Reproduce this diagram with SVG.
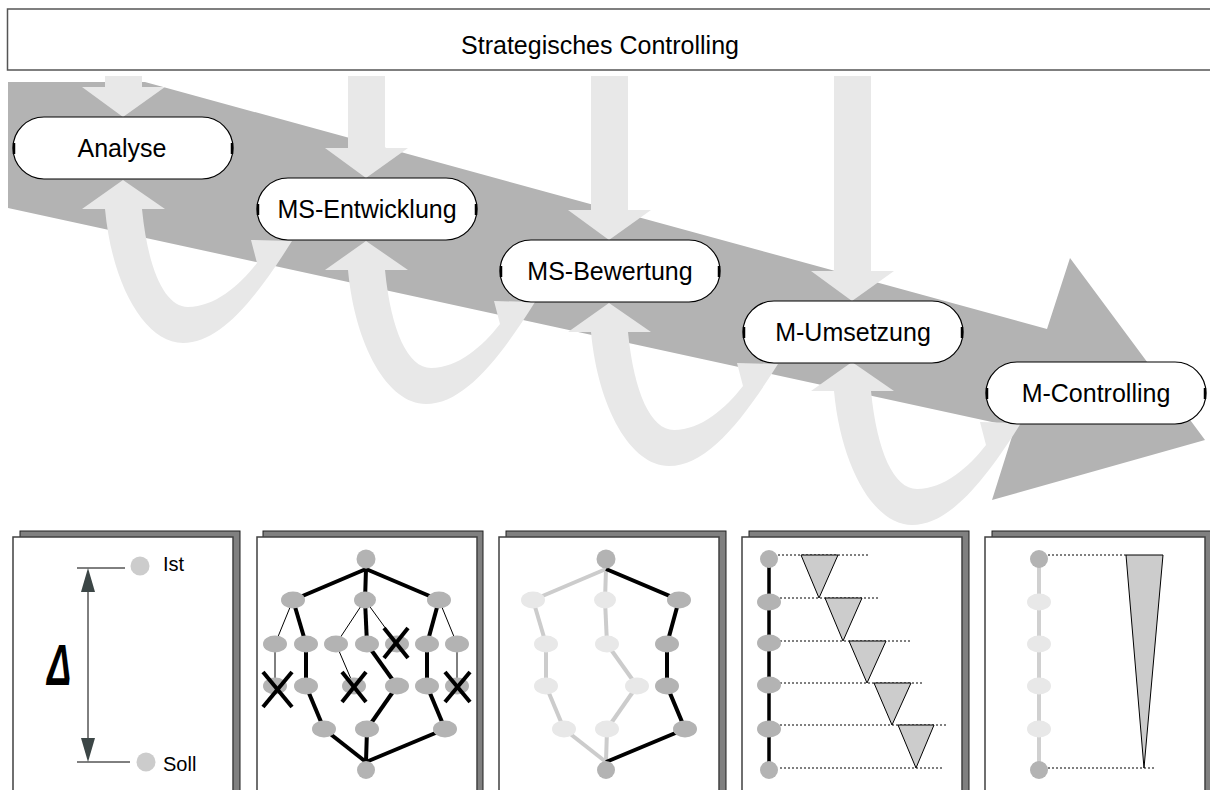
<svg xmlns="http://www.w3.org/2000/svg" width="1210" height="790" viewBox="0 0 1210 790">
  <style>
    .lbl { font-family: "Liberation Sans", Arial, sans-serif; fill: #000; }
    .pill { fill: #fff; stroke: #000; stroke-width: 1.2; }
    .tick { stroke: #000; stroke-width: 2.5; }
    .flow { fill: #e8e8e8; }
    .sheet { fill: #fff; stroke: #404040; stroke-width: 1.5; }
    .shadow { fill: #808080; stroke: #202020; stroke-width: 1; }
    .n { fill: #b3b3b3; }
    .nl { fill: #e8e8e8; }
    .thick { stroke: #000; stroke-width: 4; fill: none; }
    .thin { stroke: #000; stroke-width: 1; fill: none; }
    .pale { stroke: #cccccc; stroke-width: 4; fill: none; }
    .cross { stroke: #000; stroke-width: 4; }
    .dot { stroke: #000; stroke-width: 1; stroke-dasharray: 2 2; }
    .tri { fill: #cccccc; stroke: #000; stroke-width: 1; }
  </style>
  <defs>
    <!-- U-shaped feedback arrow: tip at origin pointing up into a stage, second head pointing into the next stage -->
    <path id="uturn" d="M 0 0 L 42 29 L 19 29 C 25 90 42 127 65 127 C 92 127 117 105 134 83 L 128 60 L 169 61 C 132 120 97 163 60 163 C 22 163 -11 105 -18 29 L -41 29 Z"/>
  </defs>

  <rect width="1210" height="790" fill="#fff"/>

  <!-- header bar -->
  <g id="header">
    <rect x="7.5" y="9" width="1215" height="61" fill="#fff" stroke="#555" stroke-width="1.5"/>
    <text class="lbl" x="600" y="54" font-size="25" text-anchor="middle">Strategisches Controlling</text>
  </g>

  <!-- large process arrow -->
  <g id="process-arrow">
    <polygon points="8,82 145,82 1047,329 1070,258 1205,440 992,500 1015,427 8,208" fill="#b3b3b3"/>
  </g>

  <g id="connectors">
    <!-- input arrows from the header -->
    <polygon class="flow" points="105,76 142,76 142,87 165,87 123,117 82,87 105,87"/>
    <polygon class="flow" points="348,76 385,76 385,148 408,148 366,178 325,148 348,148"/>
    <polygon class="flow" points="591,76 628,76 628,210 651,210 609,240 568,210 591,210"/>
    <polygon class="flow" points="834,76 871,76 871,271 894,271 852,301 811,271 834,271"/>
    <!-- feedback loops between stages -->
    <use href="#uturn" class="flow" transform="translate(123,180)"/>
    <use href="#uturn" class="flow" transform="translate(366,241)"/>
    <use href="#uturn" class="flow" transform="translate(609,303)"/>
    <use href="#uturn" class="flow" transform="translate(852,362)"/>
  </g>

  <!-- stages -->
  <g id="analyse">
    <rect class="pill" x="13" y="117" width="220" height="62" rx="31"/>
    <line class="tick" x1="14" y1="143" x2="14" y2="154"/>
    <line class="tick" x1="232" y1="143" x2="232" y2="154"/>
    <text class="lbl" x="122" y="157" font-size="25" text-anchor="middle">Analyse</text>
  </g>
  <g id="ms-entwicklung">
    <rect class="pill" x="257" y="178" width="220" height="62" rx="31"/>
    <line class="tick" x1="258" y1="204" x2="258" y2="215"/>
    <line class="tick" x1="476" y1="204" x2="476" y2="215"/>
    <text class="lbl" x="367" y="218" font-size="25" text-anchor="middle">MS-Entwicklung</text>
  </g>
  <g id="ms-bewertung">
    <rect class="pill" x="500" y="240" width="220" height="62" rx="31"/>
    <line class="tick" x1="501" y1="266" x2="501" y2="277"/>
    <line class="tick" x1="719" y1="266" x2="719" y2="277"/>
    <text class="lbl" x="610" y="280" font-size="25" text-anchor="middle">MS-Bewertung</text>
  </g>
  <g id="m-umsetzung">
    <rect class="pill" x="743" y="301" width="220" height="62" rx="31"/>
    <line class="tick" x1="744" y1="327" x2="744" y2="338"/>
    <line class="tick" x1="962" y1="327" x2="962" y2="338"/>
    <text class="lbl" x="853" y="341" font-size="25" text-anchor="middle">M-Umsetzung</text>
  </g>
  <g id="m-controlling">
    <rect class="pill" x="986" y="362" width="220" height="62" rx="31"/>
    <line class="tick" x1="987" y1="388" x2="987" y2="399"/>
    <line class="tick" x1="1205" y1="388" x2="1205" y2="399"/>
    <text class="lbl" x="1096" y="402" font-size="25" text-anchor="middle">M-Controlling</text>
  </g>

  <!-- sheet 1: deviation Ist / Soll -->
  <g id="sheet-gap">
    <rect class="shadow" x="20" y="531" width="220" height="270"/>
    <rect class="sheet" x="13" y="537" width="220" height="270"/>
    <line x1="77" y1="568" x2="125" y2="568" stroke="#000" stroke-width="1"/>
    <line x1="77" y1="762" x2="130" y2="762" stroke="#000" stroke-width="1"/>
    <line x1="88" y1="585" x2="88" y2="745" stroke="#000" stroke-width="1"/>
    <polygon points="88,568 95,592 81,592" fill="#3c4646"/>
    <polygon points="88,762 95,738 81,738" fill="#3c4646"/>
    <circle cx="140" cy="566" r="9.5" fill="#cccccc"/>
    <circle cx="146" cy="762" r="9.5" fill="#cccccc"/>
    <text class="lbl" x="163" y="571" font-size="20">Ist</text>
    <text class="lbl" x="163" y="771" font-size="20">Soll</text>
    <text class="lbl" x="0" y="0" font-size="58" font-style="italic" font-weight="bold" transform="translate(47,685) scale(0.62,1)">Δ</text>
  </g>

  <!-- sheet 2: alternative network with eliminated options -->
  <g id="sheet-network">
    <rect class="shadow" x="263" y="531" width="220" height="270"/>
    <rect class="sheet" x="257" y="537" width="220" height="270"/>
    <g class="thick">
      <line x1="366" y1="569" x2="293" y2="600"/>
      <line x1="366" y1="569" x2="365" y2="600"/>
      <line x1="366" y1="569" x2="439" y2="600"/>
      <line x1="293" y1="600" x2="306" y2="644"/>
      <line x1="306" y1="644" x2="306" y2="686"/>
      <line x1="306" y1="686" x2="324" y2="729"/>
      <line x1="365" y1="600" x2="367" y2="644"/>
      <line x1="367" y1="644" x2="397" y2="686"/>
      <line x1="397" y1="686" x2="367" y2="729"/>
      <line x1="439" y1="600" x2="427" y2="644"/>
      <line x1="427" y1="644" x2="427" y2="686"/>
      <line x1="427" y1="686" x2="445" y2="729"/>
      <line x1="324" y1="729" x2="366" y2="762"/>
      <line x1="367" y1="729" x2="366" y2="762"/>
      <line x1="445" y1="729" x2="366" y2="762"/>
    </g>
    <g class="thin">
      <line x1="293" y1="600" x2="275" y2="644"/>
      <line x1="275" y1="644" x2="275" y2="686"/>
      <line x1="365" y1="600" x2="336" y2="644"/>
      <line x1="336" y1="644" x2="354" y2="686"/>
      <line x1="365" y1="600" x2="397" y2="644"/>
      <line x1="439" y1="600" x2="457" y2="644"/>
      <line x1="457" y1="644" x2="457" y2="686"/>
    </g>
    <circle class="n" cx="366" cy="559" r="9.5"/>
    <ellipse class="n" cx="293" cy="600" rx="12" ry="8.5"/>
    <ellipse class="n" cx="365" cy="600" rx="11" ry="8.5"/>
    <ellipse class="n" cx="439" cy="600" rx="12" ry="8.5"/>
    <ellipse class="n" cx="275" cy="644" rx="12" ry="8.5"/>
    <ellipse class="n" cx="306" cy="644" rx="12" ry="8.5"/>
    <ellipse class="n" cx="336" cy="644" rx="12" ry="8.5"/>
    <ellipse class="n" cx="367" cy="644" rx="12" ry="8.5"/>
    <ellipse class="n" cx="397" cy="644" rx="12" ry="8.5"/>
    <ellipse class="n" cx="427" cy="644" rx="12" ry="8.5"/>
    <ellipse class="n" cx="457" cy="644" rx="12" ry="8.5"/>
    <ellipse class="n" cx="275" cy="686" rx="12" ry="8.5"/>
    <ellipse class="n" cx="306" cy="686" rx="12" ry="8.5"/>
    <ellipse class="n" cx="354" cy="686" rx="12" ry="8.5"/>
    <ellipse class="n" cx="397" cy="686" rx="12" ry="8.5"/>
    <ellipse class="n" cx="427" cy="686" rx="12" ry="8.5"/>
    <ellipse class="n" cx="457" cy="686" rx="12" ry="8.5"/>
    <ellipse class="n" cx="324" cy="729" rx="12" ry="8.5"/>
    <ellipse class="n" cx="367" cy="729" rx="12" ry="8.5"/>
    <ellipse class="n" cx="445" cy="729" rx="12" ry="8.5"/>
    <circle class="n" cx="366" cy="770" r="9"/>
    <g class="cross">
      <line x1="384" y1="628" x2="408" y2="658"/><line x1="408" y1="628" x2="384" y2="658"/>
      <line x1="263" y1="672" x2="292" y2="707"/><line x1="292" y1="672" x2="263" y2="707"/>
      <line x1="342" y1="672" x2="366" y2="702"/><line x1="366" y1="672" x2="342" y2="702"/>
      <line x1="445" y1="672" x2="470" y2="702"/><line x1="470" y1="672" x2="445" y2="702"/>
    </g>
  </g>

  <!-- sheet 3: selected path -->
  <g id="sheet-path">
    <rect class="shadow" x="506" y="531" width="220" height="270"/>
    <rect class="sheet" x="499" y="537" width="220" height="270"/>
    <g class="pale">
      <line x1="606" y1="569" x2="533" y2="600"/>
      <line x1="606" y1="569" x2="605" y2="600"/>
      <line x1="533" y1="600" x2="546" y2="644"/>
      <line x1="546" y1="644" x2="546" y2="686"/>
      <line x1="546" y1="686" x2="564" y2="729"/>
      <line x1="564" y1="729" x2="606" y2="762"/>
      <line x1="605" y1="600" x2="607" y2="644"/>
      <line x1="607" y1="644" x2="637" y2="686"/>
      <line x1="637" y1="686" x2="607" y2="729"/>
      <line x1="607" y1="729" x2="606" y2="762"/>
    </g>
    <polyline class="thick" points="606,569 679,600 667,644 667,686 685,729 606,762"/>
    <circle class="n" cx="606" cy="559" r="9.5"/>
    <ellipse class="nl" cx="533" cy="600" rx="12" ry="8.5"/>
    <ellipse class="nl" cx="605" cy="600" rx="11" ry="8.5"/>
    <ellipse class="n" cx="679" cy="600" rx="12" ry="8.5"/>
    <ellipse class="nl" cx="546" cy="644" rx="12" ry="8.5"/>
    <ellipse class="nl" cx="607" cy="644" rx="12" ry="8.5"/>
    <ellipse class="n" cx="667" cy="644" rx="12" ry="8.5"/>
    <ellipse class="nl" cx="546" cy="686" rx="12" ry="8.5"/>
    <ellipse class="nl" cx="637" cy="686" rx="12" ry="8.5"/>
    <ellipse class="n" cx="667" cy="686" rx="12" ry="8.5"/>
    <ellipse class="nl" cx="564" cy="729" rx="12" ry="8.5"/>
    <ellipse class="nl" cx="607" cy="729" rx="12" ry="8.5"/>
    <ellipse class="n" cx="685" cy="729" rx="12" ry="8.5"/>
    <circle class="n" cx="606" cy="770" r="9"/>
  </g>

  <!-- sheet 4: implementation steps -->
  <g id="sheet-steps">
    <rect class="shadow" x="749" y="531" width="220" height="270"/>
    <rect class="sheet" x="742" y="537" width="220" height="270"/>
    <line x1="769" y1="559" x2="769" y2="770" stroke="#000" stroke-width="3.5"/>
    <line class="dot" x1="778" y1="555" x2="868" y2="555"/>
    <line class="dot" x1="780" y1="598" x2="880" y2="598"/>
    <line class="dot" x1="780" y1="641" x2="912" y2="641"/>
    <line class="dot" x1="780" y1="683" x2="923" y2="683"/>
    <line class="dot" x1="780" y1="725" x2="947" y2="725"/>
    <line class="dot" x1="780" y1="768" x2="942" y2="768"/>
    <polygon class="tri" points="801,555 838,555 819,598"/>
    <polygon class="tri" points="825,598 862,598 843,641"/>
    <polygon class="tri" points="849,641 886,641 867,683"/>
    <polygon class="tri" points="874,683 911,683 892,725"/>
    <polygon class="tri" points="898,725 934,725 916,768"/>
    <circle class="n" cx="769" cy="559" r="9"/>
    <ellipse class="n" cx="769" cy="602" rx="12" ry="8.5"/>
    <ellipse class="n" cx="769" cy="643" rx="12" ry="8.5"/>
    <ellipse class="n" cx="769" cy="685" rx="12" ry="8.5"/>
    <ellipse class="n" cx="769" cy="729" rx="12" ry="8.5"/>
    <circle class="n" cx="769" cy="770" r="9"/>
  </g>

  <!-- sheet 5: overall control -->
  <g id="sheet-control">
    <rect class="shadow" x="992" y="531" width="220" height="270"/>
    <rect class="sheet" x="985" y="537" width="220" height="270"/>
    <line x1="1039" y1="559" x2="1039" y2="770" stroke="#d0d0d0" stroke-width="4"/>
    <line class="dot" x1="1048" y1="555" x2="1127" y2="555"/>
    <line class="dot" x1="1048" y1="768" x2="1155" y2="768"/>
    <polygon class="tri" points="1126,555 1163,555 1144,768"/>
    <circle class="n" cx="1039" cy="559" r="9"/>
    <ellipse class="nl" cx="1039" cy="602" rx="12" ry="8.5"/>
    <ellipse class="nl" cx="1039" cy="644" rx="12" ry="8.5"/>
    <ellipse class="nl" cx="1039" cy="686" rx="12" ry="8.5"/>
    <ellipse class="nl" cx="1039" cy="729" rx="12" ry="8.5"/>
    <circle class="n" cx="1039" cy="770" r="9"/>
  </g>
</svg>
